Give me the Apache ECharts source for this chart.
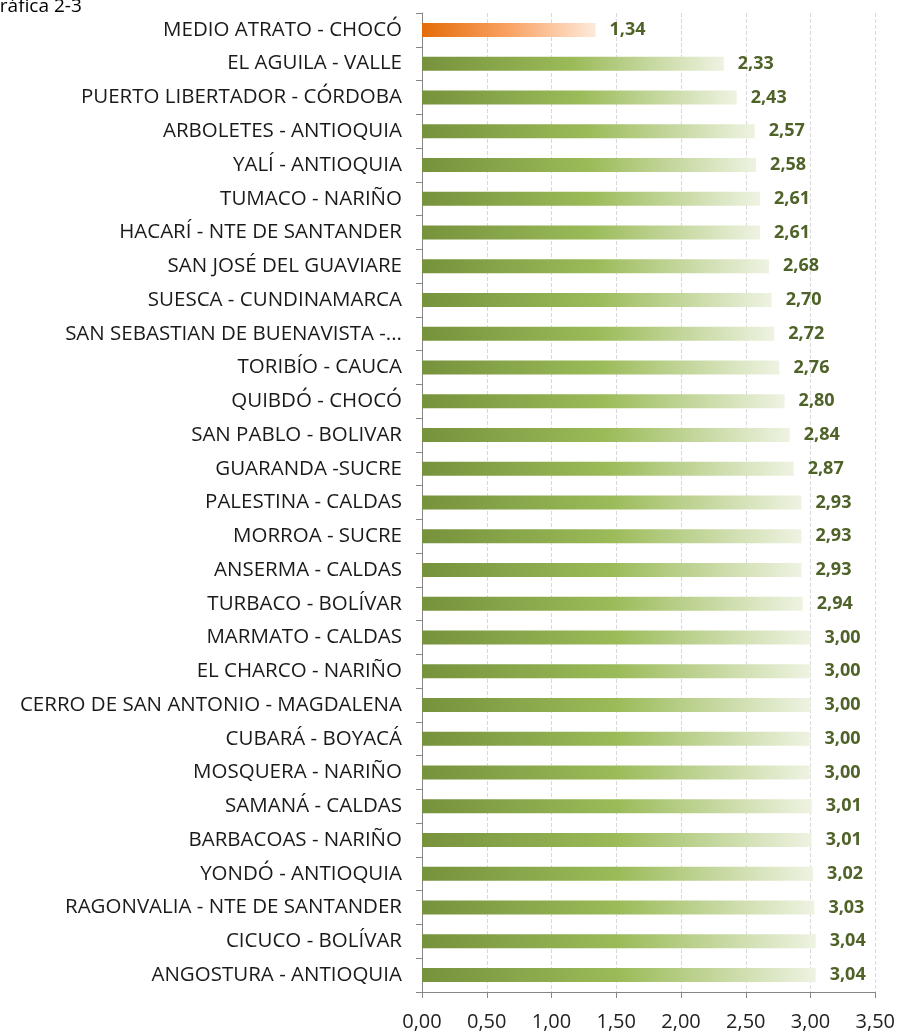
<!DOCTYPE html>
<html>
<head>
<meta charset="utf-8">
<script src="https://cdn.jsdelivr.net/npm/echarts@6/dist/echarts.min.js"></script>
<style>
  html, body { margin: 0; padding: 0; background: #fff; }
  #chart { width: 898px; height: 1034px; }
</style>
</head>
<body>
<div id="chart"></div>
<script>
// municipios, de arriba hacia abajo
var municipios = [
  'MEDIO ATRATO - CHOCÓ', 'EL AGUILA - VALLE', 'PUERTO LIBERTADOR - CÓRDOBA',
  'ARBOLETES - ANTIOQUIA', 'YALÍ - ANTIOQUIA', 'TUMACO - NARIÑO',
  'HACARÍ - NTE DE SANTANDER', 'SAN JOSÉ DEL GUAVIARE', 'SUESCA - CUNDINAMARCA',
  'SAN SEBASTIAN DE BUENAVISTA -...', 'TORIBÍO - CAUCA', 'QUIBDÓ - CHOCÓ',
  'SAN PABLO - BOLIVAR', 'GUARANDA -SUCRE', 'PALESTINA - CALDAS',
  'MORROA - SUCRE', 'ANSERMA - CALDAS', 'TURBACO - BOLÍVAR',
  'MARMATO - CALDAS', 'EL CHARCO - NARIÑO', 'CERRO DE SAN ANTONIO - MAGDALENA',
  'CUBARÁ - BOYACÁ', 'MOSQUERA - NARIÑO', 'SAMANÁ - CALDAS',
  'BARBACOAS - NARIÑO', 'YONDÓ - ANTIOQUIA', 'RAGONVALIA - NTE DE SANTANDER',
  'CICUCO - BOLÍVAR', 'ANGOSTURA - ANTIOQUIA'
];
var valores = [
  1.34, 2.33, 2.43, 2.57, 2.58, 2.61, 2.61, 2.68, 2.70, 2.72,
  2.76, 2.80, 2.84, 2.87, 2.93, 2.93, 2.93, 2.94, 3.00, 3.00,
  3.00, 3.00, 3.00, 3.01, 3.01, 3.02, 3.03, 3.04, 3.04
];
var destacado = 'MEDIO ATRATO - CHOCÓ';

var verde = new echarts.graphic.LinearGradient(0, 0, 1, 0, [
  { offset: 0, color: '#76923c' },
  { offset: 0.5, color: '#9bbb59' },
  { offset: 1, color: '#eef3e2' }
]);
var naranja = new echarts.graphic.LinearGradient(0, 0, 1, 0, [
  { offset: 0, color: '#e46c0a' },
  { offset: 0.5, color: '#f9a263' },
  { offset: 1, color: '#fdeada' }
]);

var datos = municipios.map(function (m, i) {
  return {
    value: valores[i],
    itemStyle: { color: m === destacado ? naranja : verde }
  };
});

var chart = echarts.init(document.getElementById('chart'));
chart.setOption({
  animation: false,
  graphic: [{
    type: 'text',
    left: -14,
    top: -3,
    style: { text: 'Gráfica 2-3', font: '19px "Open Sans"', fill: '#000' }
  }],
  grid: { left: 422, right: 21, top: 13, bottom: 42 },
  xAxis: {
    type: 'value',
    min: 0,
    max: 3.5,
    interval: 0.5,
    axisLine: { show: true, lineStyle: { color: '#868686' } },
    axisTick: { show: true, length: 6, lineStyle: { color: '#868686' } },
    axisLabel: {
      margin: 20,
      color: '#222',
      fontFamily: 'Open Sans',
      fontSize: 20,
      formatter: function (v) { return v.toFixed(2).replace('.', ','); }
    },
    splitLine: { show: true, lineStyle: { color: '#d9d9d9', type: 'dashed' } }
  },
  yAxis: {
    type: 'category',
    inverse: true,
    data: municipios,
    axisLine: { show: true, lineStyle: { color: '#868686' } },
    axisTick: { show: true, length: 6, lineStyle: { color: '#868686' } },
    axisLabel: {
      margin: 20,
      color: '#1a1a1a',
      fontFamily: 'Open Sans',
      fontSize: 20.5
    }
  },
  series: [{
    type: 'bar',
    data: datos,
    barWidth: 14,
    label: {
      show: true,
      position: 'right',
      distance: 14,
      color: '#4f6228',
      fontWeight: 'bold',
      fontFamily: 'Open Sans',
      fontSize: 18,
      formatter: function (p) { return p.value.toFixed(2).replace('.', ','); }
    }
  }]
});
</script>
</body>
</html>
